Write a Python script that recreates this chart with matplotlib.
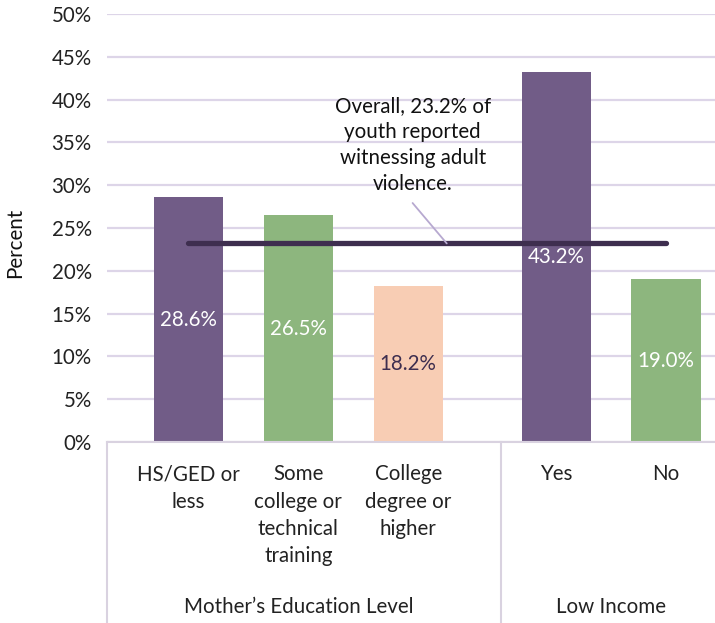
import matplotlib.pyplot as plt
import matplotlib.transforms as mtransforms

plt.rcParams['font.family'] = ['Lato', 'DejaVu Sans']

# data
categories = ['HS/GED or\nless', 'Some\ncollege or\ntechnical\ntraining',
              'College\ndegree or\nhigher', 'Yes', 'No']
values = [28.6, 26.5, 18.2, 43.2, 19.0]
groups = ["Mother\u2019s Education Level", 'Low Income']
group_sizes = [3, 2]
overall = 23.2
note = 'Overall, 23.2% of\nyouth reported\nwitnessing adult\nviolence.'

bar_colors = ['#715c87', '#8db67e', '#f8cdb4', '#715c87', '#8db67e']
label_colors = ['white', 'white', '#3e2e4f', 'white', 'white']

# x positions with a gap between the two groups
group_gap = 0.345
positions = []
start = 0
for gi, n in enumerate(group_sizes):
    for k in range(n):
        positions.append(start + k + gi * group_gap)
    start += n

fs = 14.8

fig = plt.figure(figsize=(7.15, 6.23), dpi=100)
ax = fig.add_axes([0.1497, 0.2905, 0.8503, 0.687])

ax.bar(positions, values, width=0.63, color=bar_colors, zorder=2)
for x, v, c in zip(positions, values, label_colors):
    ax.text(x, v / 2, f'{v:.1f}%', ha='center', va='center',
            color=c, fontsize=fs, zorder=4)

# overall line
ax.plot([positions[0], positions[-1]], [overall, overall], color='#3e2e4f',
        lw=3.8, solid_capstyle='round', zorder=3)
ax.annotate(note, xy=(2.35, overall), xytext=(2.04, 34.7),
            ha='center', va='center', fontsize=fs, color='#111111',
            linespacing=1.37,
            arrowprops=dict(arrowstyle='-', color='#b7a9d0', lw=1.3,
                            relpos=(0.45, 0), shrinkA=6, shrinkB=0))

ax.set_ylim(0, 50)
ax.set_yticks(range(0, 51, 5))
ax.set_yticklabels([f'{t}%' for t in range(0, 51, 5)])
ax.set_xlim(-0.74, 4.79)
ax.grid(axis='y', color='#ddd5e8', lw=1.6, zorder=0)
ax.set_axisbelow(True)
for s in ['top', 'right', 'left']:
    ax.spines[s].set_visible(False)
ax.spines['bottom'].set_color('#d9d2e0')
ax.spines['bottom'].set_linewidth(1.5)
ax.tick_params(axis='y', length=0, pad=11, labelsize=fs, labelcolor='#222222')
ax.set_xticks(positions)
ax.set_xticklabels(categories, fontsize=fs, color='#222222', linespacing=1.46)
ax.tick_params(axis='x', length=0, pad=16)
ax.set_ylabel('Percent', fontsize=fs, color='#111111')
ax.yaxis.set_label_coords(-0.135, 0.465)

# group labels and separators
trans = mtransforms.blended_transform_factory(ax.transData, ax.transAxes)
sep_x = [-0.74, positions[2] + 0.63 * (positions[3] - positions[2])]
for x in sep_x:
    ax.plot([x, x], [0, -0.45], transform=trans, color='#d9d2e0', lw=1.5,
            clip_on=False)
i = 0
for g, n in zip(groups, group_sizes):
    center = sum(positions[i:i + n]) / n
    ax.text(center, -0.386, g, transform=trans, ha='center', va='center',
            fontsize=fs, color='#222222')
    i += n

fig.savefig('out.png', dpi=100)
